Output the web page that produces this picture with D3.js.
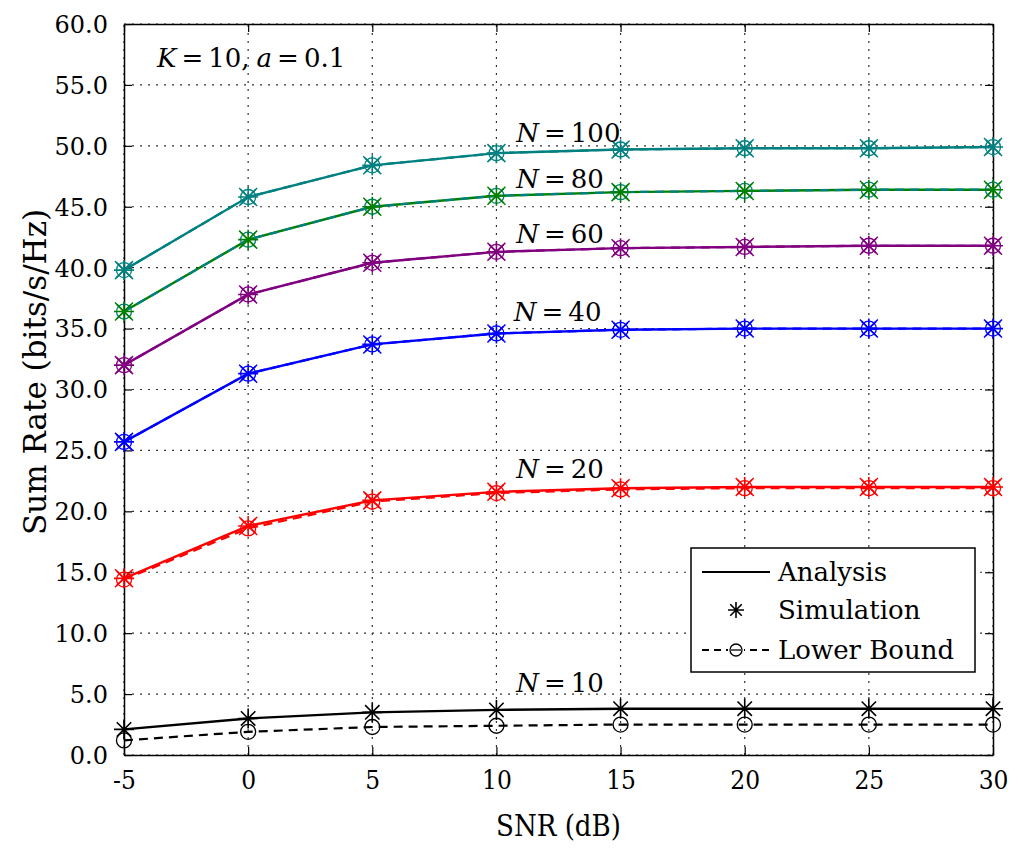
<!DOCTYPE html>
<html>
<head>
<meta charset="utf-8">
<script src="https://cdn.jsdelivr.net/npm/d3@7"></script>
<style>
  body { margin: 0; background: #fff; }
  text { font-family: "DejaVu Serif", "Liberation Serif", serif; }
</style>
</head>
<body>
<div id="chart"></div>
<script>
// SNR points (dB)
const snr = [-5, 0, 5, 10, 15, 20, 25, 30];
const xTicks = [-5, 0, 5, 10, 15, 20, 25, 30];
const yTicks = [0, 5, 10, 15, 20, 25, 30, 35, 40, 45, 50, 55, 60];

// Sum rate curves per antenna count N
const analysisN10 = [2.1, 3.0, 3.5, 3.7, 3.8, 3.8, 3.8, 3.8];
const simulationN10 = [2.1, 3.0, 3.5, 3.7, 3.8, 3.8, 3.8, 3.8];
const lowerN10 = [1.2, 1.9, 2.3, 2.4, 2.5, 2.5, 2.5, 2.5];

const analysisN20 = [14.5, 18.8, 20.9, 21.6, 21.9, 22.0, 22.0, 22.0];
const simulationN20 = [14.5, 18.8, 20.9, 21.6, 21.9, 22.0, 22.0, 22.0];
const lowerN20 = [14.4, 18.6, 20.8, 21.5, 21.8, 21.9, 21.9, 21.9];

const analysisN40 = [25.7, 31.3, 33.7, 34.6, 34.9, 35.0, 35.0, 35.0];
const simulationN40 = [25.7, 31.3, 33.7, 34.6, 34.9, 35.0, 35.0, 35.0];
const lowerN40 = [25.7, 31.3, 33.7, 34.6, 34.9, 35.0, 35.0, 35.0];

const analysisN60 = [32.0, 37.8, 40.4, 41.3, 41.6, 41.7, 41.8, 41.8];
const simulationN60 = [32.0, 37.8, 40.4, 41.3, 41.6, 41.7, 41.8, 41.8];
const lowerN60 = [32.0, 37.8, 40.4, 41.3, 41.6, 41.7, 41.8, 41.8];

const analysisN80 = [36.4, 42.3, 45.0, 45.9, 46.2, 46.3, 46.4, 46.4];
const simulationN80 = [36.4, 42.3, 45.0, 45.9, 46.2, 46.3, 46.4, 46.4];
const lowerN80 = [36.4, 42.3, 45.0, 45.9, 46.2, 46.3, 46.4, 46.4];

const analysisN100 = [39.8, 45.8, 48.4, 49.4, 49.7, 49.8, 49.8, 49.9];
const simulationN100 = [39.8, 45.8, 48.4, 49.4, 49.7, 49.8, 49.8, 49.9];
const lowerN100 = [39.8, 45.8, 48.4, 49.4, 49.7, 49.8, 49.8, 49.9];

// Curve labels: N, label x (dB), label y (bits/s/Hz)
const labelN = [100, 80, 60, 40, 20, 10];
const labelX = [10.8, 10.8, 10.8, 10.7, 10.8, 10.8];
const labelY = [50.3, 46.5, 42.0, 35.6, 22.7, 5.2];

let series = [
    {n: 10, color: '#000000', lowColor: '#000000', analysis: analysisN10, sim: simulationN10, low: lowerN10},
    {n: 20, color: '#ff0000', lowColor: '#ff0000', analysis: analysisN20, sim: simulationN20, low: lowerN20},
    {n: 40, color: '#0000ff', lowColor: '#0000ff', analysis: analysisN40, sim: simulationN40, low: lowerN40},
    {n: 60, color: '#800080', lowColor: '#800080', analysis: analysisN60, sim: simulationN60, low: lowerN60},
    {n: 80, color: '#008000', lowColor: '#008080', analysis: analysisN80, sim: simulationN80, low: lowerN80},
    {n: 100, color: '#008080', lowColor: '#008080', analysis: analysisN100, sim: simulationN100, low: lowerN100}
];

let width = 1013;
let height = 848;

let svg = d3.select('#chart')
    .append('svg')
    .attr('width', width)
    .attr('height', height);

let x = d3.scaleLinear()
    .domain([-5, 30])
    .range([124, 993]);

let y = d3.scaleLinear()
    .domain([0, 60])
    .range([755, 24]);

// Grid
let grid = svg.append('g');
grid.selectAll('.vgrid')
    .data(xTicks)
    .enter()
    .append('line')
    .attr('x1', d => x(d)).attr('x2', d => x(d))
    .attr('y1', y(0)).attr('y2', y(60))
    .attr('stroke', '#333')
    .attr('stroke-width', 1.2)
    .attr('stroke-dasharray', '2,6');
grid.selectAll('.hgrid')
    .data(yTicks)
    .enter()
    .append('line')
    .attr('x1', x(-5)).attr('x2', x(30))
    .attr('y1', d => y(d)).attr('y2', d => y(d))
    .attr('stroke', '#333')
    .attr('stroke-width', 1.2)
    .attr('stroke-dasharray', '2,6');

// Axes (ticks inside)
let xAxis = svg.append('g')
    .attr('transform', 'translate(0,' + y(0) + ')')
    .call(d3.axisBottom(x).tickValues(xTicks).tickSizeInner(-8).tickSizeOuter(0).tickPadding(16).tickFormat(d => String(d)));
let xAxisTop = svg.append('g')
    .attr('transform', 'translate(0,' + y(60) + ')')
    .call(d3.axisTop(x).tickValues(xTicks).tickSizeInner(-8).tickSizeOuter(0).tickFormat(''));
let yAxis = svg.append('g')
    .attr('transform', 'translate(' + x(-5) + ',0)')
    .call(d3.axisLeft(y).tickValues(yTicks).tickSizeInner(-8).tickSizeOuter(0).tickPadding(16).tickFormat(d3.format('.1f')));
let yAxisRight = svg.append('g')
    .attr('transform', 'translate(' + x(30) + ',0)')
    .call(d3.axisRight(y).tickValues(yTicks).tickSizeInner(-8).tickSizeOuter(0).tickFormat(''));

[xAxis, xAxisTop, yAxis, yAxisRight].forEach(function(a) {
    a.attr('font-family', null);
    a.selectAll('path').attr('stroke', '#000').attr('stroke-width', 1.5);
    a.selectAll('line').attr('stroke', '#000').attr('stroke-width', 1.2);
    a.selectAll('text')
        .attr('fill', '#000')
        .style('font-size', '24px')
        .style('font-family', '"DejaVu Serif", serif');
});
yAxis.selectAll('text').attr('dy', '0.35em');
xAxis.selectAll('text')
    .style('font-size', '26px')
    .style('font-stretch', 'condensed');

// Lines
let line = d3.line()
    .x((d, i) => x(snr[i]))
    .y(d => y(d));

let curves = svg.append('g');

// asterisk marker (plus + cross)
function star(g, cx, cy, r, color) {
    let d = r * 0.72;
    let p = 'M' + (cx - r) + ',' + cy + 'L' + (cx + r) + ',' + cy +
        'M' + cx + ',' + (cy - r) + 'L' + cx + ',' + (cy + r) +
        'M' + (cx - d) + ',' + (cy - d) + 'L' + (cx + d) + ',' + (cy + d) +
        'M' + (cx - d) + ',' + (cy + d) + 'L' + (cx + d) + ',' + (cy - d);
    g.append('path').attr('d', p).attr('stroke', color).attr('stroke-width', 1.6).attr('fill', 'none');
}
function xmark(g, cx, cy, r, color) {
    let p = 'M' + (cx - r) + ',' + (cy - r) + 'L' + (cx + r) + ',' + (cy + r) +
        'M' + (cx - r) + ',' + (cy + r) + 'L' + (cx + r) + ',' + (cy - r);
    g.append('path').attr('d', p).attr('stroke', color).attr('stroke-width', 1.5).attr('fill', 'none');
}

series.forEach(function(s) {
    curves.append('path')
        .datum(s.analysis)
        .attr('d', line)
        .attr('fill', 'none')
        .attr('stroke', s.color)
        .attr('stroke-width', 2.4);
    curves.append('path')
        .datum(s.low)
        .attr('d', line)
        .attr('fill', 'none')
        .attr('stroke', s.lowColor)
        .attr('stroke-width', 2.2)
        .attr('stroke-dasharray', '9,6');
    s.low.forEach(function(v, i) {
        curves.append('circle')
            .attr('cx', x(snr[i]))
            .attr('cy', y(v))
            .attr('r', 7.5)
            .attr('fill', 'none')
            .attr('stroke', s.lowColor)
            .attr('stroke-width', 1.3);
    });
    s.sim.forEach(function(v, i) {
        star(curves, x(snr[i]), y(v), 10, s.color);
        if (s.n > 10) xmark(curves, x(snr[i]), y(v), 9, s.color);
    });
});

// Curve labels
labelN.forEach(function(n, i) {
    let t = svg.append('text')
        .attr('x', x(labelX[i]))
        .attr('y', y(labelY[i]))
        .style('font-size', '26px')
        .attr('fill', '#000');
    t.append('tspan').style('font-style', 'italic').text('N');
    t.append('tspan').attr('dx', 5).text('=');
    t.append('tspan').attr('dx', 5).text(String(n));
});

// Parameter annotation
let ann = svg.append('text')
    .attr('x', 157)
    .attr('y', 67)
    .style('font-size', '26px')
    .attr('fill', '#000');
ann.append('tspan').style('font-style', 'italic').text('K');
ann.append('tspan').attr('dx', 5).text('=');
ann.append('tspan').attr('dx', 5).text('10,');
ann.append('tspan').attr('dx', 7).style('font-style', 'italic').text('a');
ann.append('tspan').attr('dx', 5).text('=');
ann.append('tspan').attr('dx', 5).text('0.1');

// Axis titles
svg.append('text')
    .attr('x', (x(-5) + x(30)) / 2)
    .attr('y', 836)
    .attr('text-anchor', 'middle')
    .style('font-size', '29px')
    .style('font-stretch', 'condensed')
    .text('SNR (dB)');
svg.append('text')
    .attr('transform', 'translate(46,372) rotate(-90)')
    .attr('text-anchor', 'middle')
    .style('font-size', '31px')
    .text('Sum Rate (bits/s/Hz)');

// Legend
let legend = svg.append('g');
legend.append('rect')
    .attr('x', 691).attr('y', 548)
    .attr('width', 284).attr('height', 124)
    .attr('fill', '#fff')
    .attr('stroke', '#000')
    .attr('stroke-width', 1.5);
let legendItems = ['Analysis', 'Simulation', 'Lower Bound'];
let legendY = [572, 610, 650];
legendItems.forEach(function(name, i) {
    legend.append('text')
        .attr('x', 778)
        .attr('y', legendY[i])
        .attr('dy', '0.35em')
        .style('font-size', '26px')
        .text(name);
});
legend.append('line')
    .attr('x1', 702).attr('x2', 770)
    .attr('y1', legendY[0]).attr('y2', legendY[0])
    .attr('stroke', '#000').attr('stroke-width', 2.2);
star(legend, 736, legendY[1], 8, '#000');
legend.append('line')
    .attr('x1', 702).attr('x2', 770)
    .attr('y1', legendY[2]).attr('y2', legendY[2])
    .attr('stroke', '#000').attr('stroke-width', 2.2)
    .attr('stroke-dasharray', '7,5');
legend.append('rect')
    .attr('x', 728).attr('y', legendY[2] - 9)
    .attr('width', 16).attr('height', 18)
    .attr('fill', '#fff');
legend.append('circle')
    .attr('cx', 736).attr('cy', legendY[2])
    .attr('r', 6)
    .attr('fill', 'none')
    .attr('stroke', '#000')
    .attr('stroke-width', 1.3);
legend.append('line')
    .attr('x1', 731).attr('x2', 741)
    .attr('y1', legendY[2]).attr('y2', legendY[2])
    .attr('stroke', '#000').attr('stroke-width', 1.3);
</script>
</body>
</html>
